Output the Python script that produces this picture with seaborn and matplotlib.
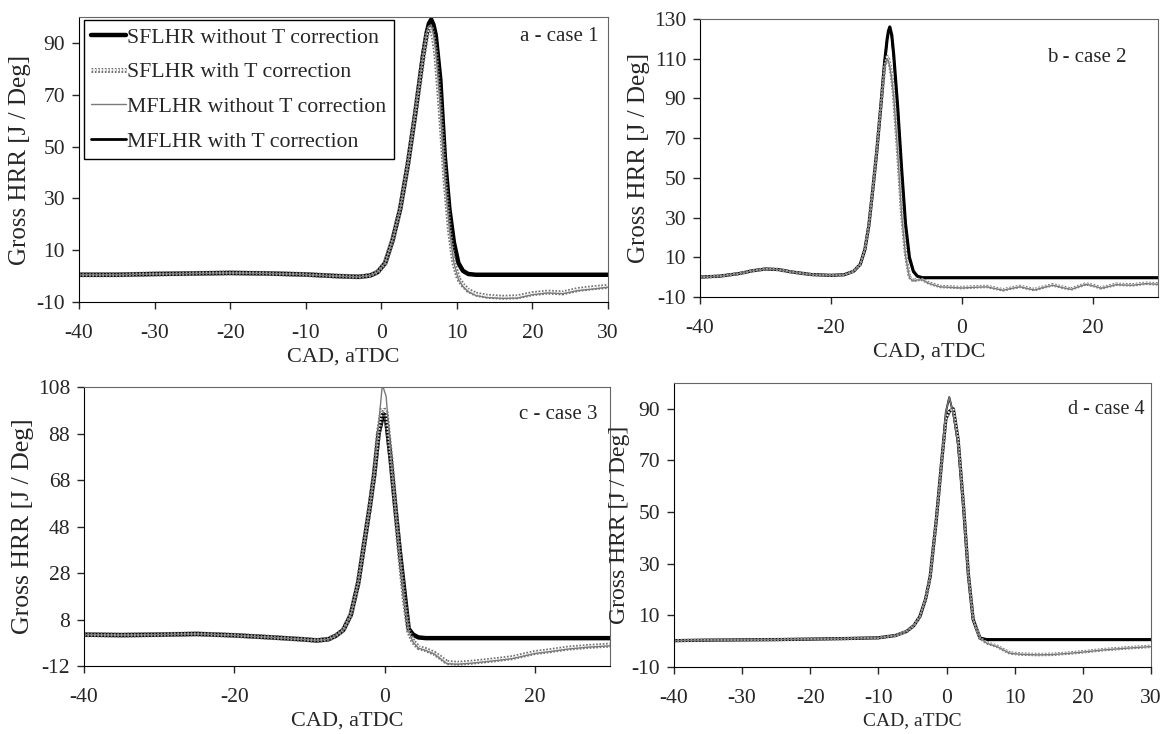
import matplotlib
matplotlib.use("Agg")
import matplotlib.pyplot as plt
import matplotlib.patheffects as pe
import seaborn as sns

sns.set_style("ticks")
plt.rcParams['font.family'] = ['Liberation Serif', 'DejaVu Serif']
plt.rcParams['axes.unicode_minus'] = False

series_names = ["SFLHR without T correction", "SFLHR with T correction",
                "MFLHR without T correction", "MFLHR with T correction"]

# ---- a - case 1
cad_a = [-40, -35, -30, -25, -20, -15, -10, -6, -3, -1.5, -0.5, 0.5, 1.5, 2.5, 3.5, 4.5, 5.5, 6.0, 6.3, 6.6,
         6.9, 7.2, 7.8, 8.4, 9.0, 9.6, 10.2, 10.8, 11.5, 12.5, 14, 16, 18, 20, 22, 24, 26, 28, 30]
sf_not_a = [0.5, 0.5, 0.8, 1.0, 1.2, 1.0, 0.6, 0.0, -0.3, 0.2, 1.5, 5, 14, 26, 43, 63, 85, 94, 97.5, 99,
            97, 93, 76, 46, 26, 13, 5, 2, 0.8, 0.5, 0.5, 0.5, 0.5, 0.5, 0.5, 0.5, 0.5, 0.5, 0.5]
sf_t_a = [0.5, 0.5, 0.8, 1.0, 1.2, 1.0, 0.6, 0.0, -0.3, 0.2, 1.5, 5, 14, 26, 43, 63, 84, 93, 95.5, 96,
          92, 86, 64, 38, 18, 5, -1, -3.5, -5.5, -7, -7.8, -8.2, -8, -6.8, -6.2, -6.5, -5.2, -4.5, -4]
mf_not_a = [0.5, 0.5, 0.8, 1.0, 1.2, 1.0, 0.6, 0.0, -0.3, 0.2, 1.5, 5, 14, 26, 43, 64, 85, 94, 96.5, 97,
            93, 87, 65, 38, 18, 5, -1.2, -4, -6, -7.5, -8.3, -8.6, -8.5, -7.2, -6.5, -6.8, -5.6, -5, -4.3]
mf_t_a = [0.5, 0.5, 0.8, 1.0, 1.2, 1.0, 0.6, 0.0, -0.3, 0.2, 1.5, 5, 14, 26, 43, 63, 84, 93, 96.5, 98,
          96, 92, 75, 46, 25, 12, 5, 2, 0.8, 0.5, 0.4, 0.4, 0.4, 0.4, 0.4, 0.4, 0.4, 0.4, 0.4]

# ---- b - case 2
cad_b = [-40, -37, -34, -32, -30, -28, -26, -23, -20, -18, -16.5, -15.5, -14.8, -14.2, -13.6, -13.0,
         -12.4, -11.8, -11.4, -11.2, -11.0, -10.7, -10.4, -9.8, -9.2, -8.6, -8.0, -7.4, -6.8, -6.0, -5,
         -3.3, -1.5, 0, 1.5, 3.8, 5, 6.3, 7.6, 8.9, 10, 11.1, 12.5, 13.9, 15.3, 16.7, 18, 19, 20.2,
         21.3, 22.5, 23.6, 25, 26.1, 28.1, 30]
sf_not_b = [0, 0.5, 1.8, 3.2, 4.1, 3.8, 2.6, 1.3, 0.9, 1.2, 3, 6.5, 14, 26, 44, 63,
            85, 108, 120, 124, 126, 122, 112, 86, 55, 27, 10, 3, 0.5, -0.3, -0.3,
            -0.3, -0.3, -0.3, -0.3, -0.3, -0.3, -0.3, -0.3, -0.3, -0.3, -0.3, -0.3, -0.3, -0.3, -0.3, -0.3, -0.3, -0.3,
            -0.3, -0.3, -0.3, -0.3, -0.3, -0.3, -0.3]
sf_t_b = [0, 0.5, 1.8, 3.2, 4.1, 3.8, 2.6, 1.3, 0.9, 1.2, 3, 6.5, 14, 26, 44, 63,
          85, 106, 111, 110, 107, 101, 92, 64, 33, 12, 0, -1.8, -1.2, -1.2, -3,
          -4.7, -5, -5.3, -5, -4.7, -5.5, -6.4, -5.5, -4.7, -5.5, -6.3, -5, -3.9, -5, -6, -4.5, -3.4, -4.3,
          -5.4, -4.5, -3.6, -3.8, -3.9, -3.1, -3.4]
mf_not_b = [0, 0.5, 1.8, 3.2, 4.1, 3.8, 2.6, 1.3, 0.9, 1.2, 3, 6.5, 14, 26, 44, 63,
            85, 106, 110, 109, 106, 100, 91, 63, 32, 11, -0.3, -2, -1.4, -1.4, -3.2,
            -4.9, -5.2, -5.5, -5.2, -4.9, -5.7, -6.6, -5.7, -4.9, -5.7, -6.5, -5.2, -4.1, -5.2, -6.2, -4.7, -3.6, -4.5,
            -5.6, -4.7, -3.8, -4.0, -4.1, -3.3, -3.6]
mf_t_b = [0, 0.5, 1.8, 3.2, 4.1, 3.8, 2.6, 1.3, 0.9, 1.2, 3, 6.5, 14, 26, 44, 63,
          85, 108, 120, 123.5, 125, 121, 111, 85, 54, 26, 9, 2.5, 0.3, -0.3, -0.3,
          -0.3, -0.3, -0.3, -0.3, -0.3, -0.3, -0.3, -0.3, -0.3, -0.3, -0.3, -0.3, -0.3, -0.3, -0.3, -0.3, -0.3, -0.3,
          -0.3, -0.3, -0.3, -0.3, -0.3, -0.3, -0.3]

# ---- c - case 3
cad_c = [-40, -35, -30, -25, -20, -15, -11, -9, -7.5, -6.5, -5.5, -4.5, -3.5, -2.8, -2.0, -1.4, -0.8,
         -0.3, 0.2, 0.8, 1.4, 2.0, 2.6, 3.2, 3.8, 4.5, 5.5, 6.6, 7.5, 8.3, 9.7, 11.5, 13.3, 15, 17,
         20, 22, 24.4, 27, 30]
sf_not_c = [1.5, 1.3, 1.5, 1.8, 1.2, 0.3, -0.5, -1, -0.5, 1, 3.5, 10, 24, 39, 56, 70, 88,
            95, 94, 77, 57, 38, 21, 4, 1.5, 0.3, 0, 0, 0, 0, 0, 0, 0, 0, 0,
            0, 0, 0, 0, 0]
sf_t_c = [1.5, 1.3, 1.5, 1.8, 1.2, 0.3, -0.5, -1, -0.5, 1, 3.5, 10, 24, 39, 56, 70, 89,
          99, 97, 78, 57, 36, 17, 3, -1.5, -4, -5, -6.5, -8.5, -10.5, -10.8, -10.4, -9.8, -9.2, -8.4,
          -6.2, -5.4, -4.3, -3.6, -3]
mf_not_c = [1.5, 1.3, 1.5, 1.8, 1.2, 0.3, -0.5, -1, -0.5, 1, 3.5, 10, 24, 39, 56, 71, 92,
            109, 104, 80, 57, 36, 17, 3, -1.8, -4.3, -5.3, -6.8, -9, -11, -11.2, -10.8, -10.2, -9.6, -8.8,
            -6.6, -5.8, -4.7, -3.9, -3.3]
mf_t_c = [1.5, 1.3, 1.5, 1.8, 1.2, 0.3, -0.5, -1, -0.5, 1, 3.5, 10, 24, 39, 56, 70, 89,
          97, 96, 78, 57, 38, 21, 4, 1.5, 0.3, 0, 0, 0, 0, 0, 0, 0, 0, 0,
          0, 0, 0, 0, 0]

# ---- d - case 4
cad_d = [-40, -35, -30, -25, -20, -15, -10, -7.5, -5.9, -4.8, -3.9, -3.1, -2.4, -1.5, -0.7, -0.1,
         0.4, 1.0, 1.7, 2.5, 3.2, 3.9, 4.9, 5.9, 7.4, 9.3, 11, 13.3, 15.5, 18.1, 20.5, 23, 26, 30]
sf_not_d = [0.2, 0.4, 0.5, 0.6, 0.8, 1.0, 1.3, 2.2, 3.7, 6, 9.6, 16, 25, 47, 70, 86,
            89, 90, 78, 52, 26, 8.5, 1.2, 0.6, 0.6, 0.6, 0.6, 0.6, 0.6, 0.6, 0.6, 0.6, 0.6, 0.6]
sf_t_d = [0.2, 0.4, 0.5, 0.6, 0.8, 1.0, 1.3, 2.2, 3.7, 6, 9.6, 16, 25, 47, 70, 86,
          89, 90, 78, 52, 26, 8.5, 1.2, -0.6, -2.0, -4.6, -5.0, -5.2, -5.1, -4.6, -4.0, -3.3, -2.7, -2.0]
mf_not_d = [0.2, 0.4, 0.5, 0.6, 0.8, 1.0, 1.3, 2.2, 3.7, 6, 9.6, 16, 25, 47, 70, 88.7,
            94.5, 88, 76, 51, 25, 8.3, 1.2, -0.8, -2.1, -4.7, -5.1, -5.3, -5.2, -4.7, -4.1, -3.4, -2.8, -2.1]
mf_t_d = [0.2, 0.4, 0.5, 0.6, 0.8, 1.0, 1.3, 2.2, 3.7, 6, 9.6, 16, 25, 47, 70, 88.7,
          94.5, 88, 76, 51, 25, 8.3, 1.2, 0.6, 0.6, 0.6, 0.6, 0.6, 0.6, 0.6, 0.6, 0.6, 0.6, 0.6]


def estilo(nombre, k):
    if nombre == series_names[0]:
        return dict(color='black', lw=3.2 * k)
    if nombre == series_names[1]:
        return dict(color='white', lw=1.2, linestyle=(0, (1, 1)),
                    path_effects=[pe.Stroke(linewidth=3.6 * k, foreground='#707070'), pe.Normal()])
    if nombre == series_names[2]:
        return dict(color='#7a7a7a', lw=1.0)
    return dict(color='black', lw=2.0 * k)


# titulo, x, series, ylim, yticks, xticks, posicion, texto, grosor, letra xlabel, letra ylabel, pad ylabel
paneles = [
    ("a - case 1", cad_a, [sf_not_a, sf_t_a, mf_not_a, mf_t_a], (-10, 100), [-10, 10, 30, 50, 70, 90],
     range(-40, 31, 10), [0.0679, 0.5886, 0.4545, 0.3883], (0.981, 0.933), 1.0, 16, 18, 4),
    ("b - case 2", cad_b, [sf_not_b, sf_t_b, mf_not_b, mf_t_b], (-10, 130), list(range(-10, 131, 20)),
     range(-40, 31, 20), [0.6014, 0.5954, 0.3935, 0.3787], (0.932, 0.86), 0.7, 16, 18, 3),
    ("c - case 3", cad_c, [sf_not_c, sf_t_c, mf_not_c, mf_t_c], (-12, 108), list(range(-12, 109, 20)),
     range(-40, 31, 20), [0.0722, 0.0926, 0.4519, 0.3801], (0.977, 0.9), 1.0, 16, 18.5, 3),
    ("d - case 4", cad_d, [sf_not_d, sf_t_d, mf_not_d, mf_t_d], (-10, 100), [-10, 10, 30, 50, 70, 90],
     range(-40, 31, 10), [0.579, 0.0913, 0.4098, 0.3869], (0.987, 0.905), 0.7, 14, 17, 1),
]

fig = plt.figure(figsize=(11.64, 7.34), dpi=100)
orden = [0, 3, 1, 2]  # orden de dibujo

for titulo, cad, valores, ylim, yt, xt, pos, txy, k, fs, fsy, pady in paneles:
    ax = fig.add_axes(pos)
    for i in orden:
        sns.lineplot(x=cad, y=valores[i], ax=ax, label=series_names[i], legend=False,
                     sort=False, estimator=None, **estilo(series_names[i], k))
    ax.set_xlim(-40, 30)
    ax.set_ylim(*ylim)
    ax.set_yticks(yt)
    ax.set_xticks(list(xt))
    ax.tick_params(direction='out', length=5, width=1, labelsize=15.5)
    ax.tick_params(axis='x', pad=11)
    ax.tick_params(axis='y', pad=5)
    ax.set_xlabel("CAD, aTDC", fontsize=fs, labelpad=3)
    ax.set_ylabel("Gross HRR [J / Deg]", fontsize=fsy, labelpad=pady)
    for lado in ['left', 'bottom']:
        ax.spines[lado].set_color('black')
    for lado in ['top', 'right']:
        ax.spines[lado].set_color('#666666')
    ax.text(txy[0], txy[1], titulo, transform=ax.transAxes, ha='right', va='center',
            fontsize=15 if fs > 14 else 14.5)
    if titulo.startswith("a"):
        h, l = ax.get_legend_handles_labels()
        mapa = dict(zip(l, h))
        leg = ax.legend([mapa[n] for n in series_names], series_names, loc='upper left',
                        bbox_to_anchor=(0.009, 0.99), fontsize=15.7, frameon=True, fancybox=False,
                        framealpha=1, edgecolor='black', handlelength=1.6, handletextpad=0.05,
                        labelspacing=0.66, borderpad=0.35, borderaxespad=0)
        leg.get_frame().set_linewidth(1.0)

fig.savefig("out.png", dpi=100)
